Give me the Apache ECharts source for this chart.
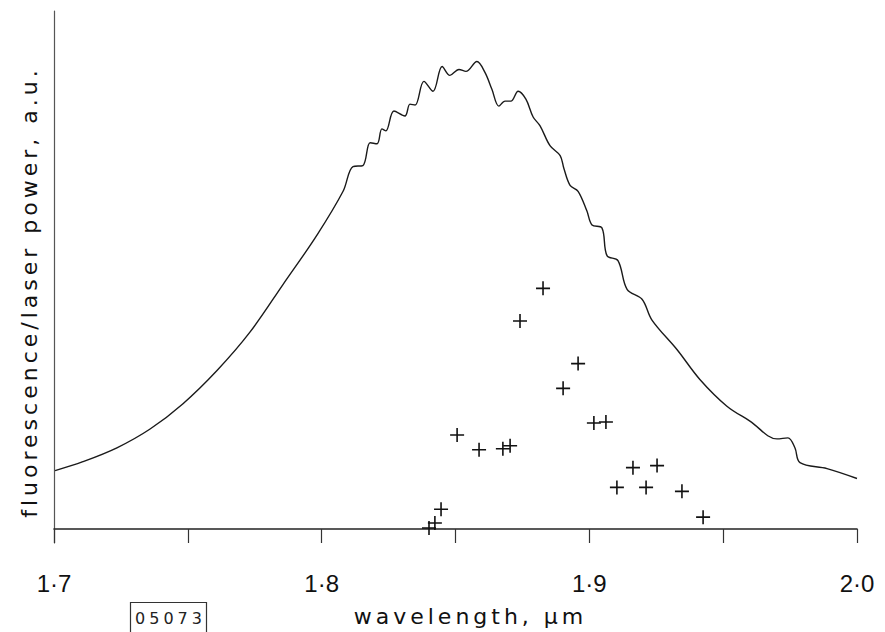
<!DOCTYPE html>
<html>
<head>
<meta charset="utf-8">
<script src="https://cdn.jsdelivr.net/npm/echarts@6/dist/echarts.min.js"></script>
<style>
  html, body { margin: 0; padding: 0; background: #ffffff; }
  #chart { width: 885px; height: 632px; }
  #chart text[style*="DejaVu"] { letter-spacing: 4px; }
</style>
</head>
<body>
<div id="chart"></div>
<script>
// Fluorescence / laser power curve (wavelength in µm, arbitrary units)
const curveX = [1.7004, 1.7108, 1.7235, 1.7359, 1.7482, 1.7609, 1.7732, 1.7856, 1.7983, 1.8080,
  1.8117, 1.8154, 1.8181, 1.8207, 1.8225, 1.8240, 1.8270, 1.8311, 1.8330, 1.8349,
  1.8382, 1.8416, 1.8450, 1.8479, 1.8513, 1.8539, 1.8580, 1.8610, 1.8636, 1.8662,
  1.8685, 1.8707, 1.8734, 1.8763, 1.8790, 1.8816, 1.8853, 1.8891, 1.8905, 1.8928,
  1.8958, 1.8991, 1.9010, 1.9047, 1.9066, 1.9107, 1.9141, 1.9197, 1.9234, 1.9328,
  1.9413, 1.9514, 1.9600, 1.9701, 1.9742, 1.9768, 1.9787, 1.9888, 2.0000];
const curveY = [1.128, 1.300, 1.568, 1.931, 2.420, 3.060, 3.800, 4.723, 5.679, 6.520,
  6.998, 7.017, 7.457, 7.438, 7.725, 7.686, 8.069, 7.973, 8.203, 8.184,
  8.642, 8.451, 8.929, 8.757, 8.872, 8.834, 9.025, 8.815, 8.489, 8.164,
  8.260, 8.260, 8.451, 8.298, 7.954, 7.782, 7.400, 7.208, 6.960, 6.635,
  6.520, 6.138, 5.870, 5.813, 5.277, 5.182, 4.627, 4.436, 4.034, 3.461,
  2.887, 2.371, 2.084, 1.740, 1.759, 1.568, 1.281, 1.166, 0.975];

// Measured points (crosses)
const crossX = [1.8827, 1.8741, 1.8958, 1.8902, 1.8506, 1.8588, 1.8677, 1.8704, 1.9017, 1.9062,
  1.9163, 1.9253, 1.9103, 1.9212, 1.9346, 1.9425, 1.8446, 1.8423, 1.8401];
const crossY = [4.646, 4.015, 3.193, 2.715, 1.816, 1.530, 1.549, 1.606, 2.046, 2.065,
  1.185, 1.224, 0.803, 0.803, 0.727, 0.229, 0.382, 0.115, 0.020];

// Axis ticks
const xTickValues = [1.7, 1.8, 1.9, 2.0];
const xTickLabels = ['1·7', '1·8', '1·9', '2·0'];
const xAxisTitle = 'wavelength, µm';
const yAxisTitle = 'fluorescence/laser power, a.u.';
const figureTag = '05073';

const chart = echarts.init(document.getElementById('chart'), null, { renderer: 'svg' });

const option = {
  animation: false,
  backgroundColor: '#ffffff',
  grid: { left: 54, right: 28, top: 11, bottom: 84 },
  xAxis: {
    type: 'value',
    min: 1.7,
    max: 2.0,
    interval: 0.05,
    name: xAxisTitle,
    nameLocation: 'middle',
    nameGap: 62,
    nameTextStyle: { fontFamily: 'DejaVu Sans', fontSize: 22, color: '#111', padding: [0, 0, 0, 30] },
    axisLine: { onZero: true, lineStyle: { color: '#222', width: 1.6 } },
    axisTick: { show: true, inside: false, length: 14, lineStyle: { color: '#333', width: 1.2 } },
    axisLabel: {
      margin: 28,
      fontFamily: 'Liberation Sans',
      fontSize: 24,
      color: '#111',
      formatter: function (v) {
        const i = xTickValues.findIndex(t => Math.abs(t - v) < 1e-6);
        return i >= 0 ? xTickLabels[i] : '';
      }
    },
    splitLine: { show: false }
  },
  yAxis: {
    type: 'value',
    min: -0.27,
    max: 10,
    name: yAxisTitle,
    nameLocation: 'middle',
    nameGap: 14,
    nameRotate: 90,
    nameTextStyle: { fontFamily: 'DejaVu Sans', fontSize: 22, color: '#111', padding: [0, 30, 0, 0] },
    axisLine: { show: true, lineStyle: { color: '#555', width: 1.2 } },
    axisTick: { show: false },
    axisLabel: { show: false },
    splitLine: { show: false }
  },
  series: [
    {
      type: 'line',
      data: curveX.map((x, i) => [x, curveY[i]]),
      showSymbol: false,
      smooth: 0.35,
      lineStyle: { color: '#1a1a1a', width: 1.4 },
      z: 3
    },
    {
      type: 'scatter',
      data: crossX.map((x, i) => [x, crossY[i]]),
      symbol: 'path://M-0.8,-7H0.8V-0.8H7V0.8H0.8V7H-0.8V0.8H-7V-0.8H-0.8Z',
      symbolSize: 14,
      itemStyle: { color: '#111', opacity: 1 },
      z: 4
    }
  ],
  graphic: [
    {
      type: 'group',
      left: 128,
      top: 600,
      children: [
        { type: 'rect', shape: { x: 0, y: 0, width: 76, height: 34 }, style: { fill: 'none', stroke: '#333', lineWidth: 1.2 } },
        { type: 'text', x: 40, y: 16, style: { text: figureTag, fontFamily: 'DejaVu Sans', fontSize: 16, fill: '#222', align: 'center', verticalAlign: 'middle' } }
      ]
    }
  ]
};
chart.setOption(option);
</script>
</body>
</html>
